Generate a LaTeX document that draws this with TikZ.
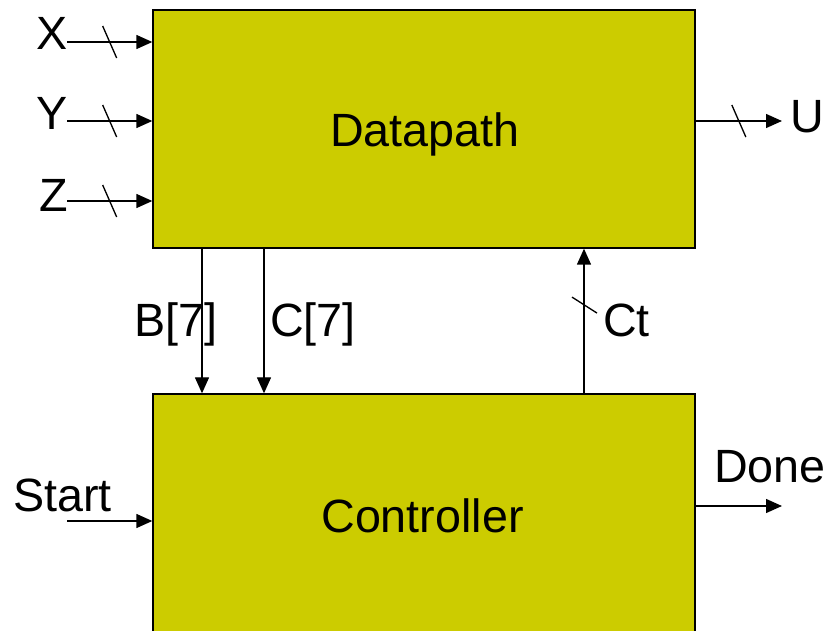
\documentclass[tikz,border=0pt]{standalone}
\usepackage{fontspec}
\setmainfont{Liberation Sans}
\usetikzlibrary{arrows.meta,calc}
\definecolor{blockfill}{HTML}{CCCC00}

\tikzset{
  block/.style={draw=black,line width=1pt,fill=blockfill,inner sep=0pt},
  lbl/.style={inner sep=0pt,font=\fontsize{35}{42}\selectfont},
  sig/.style={line width=1pt,-{Triangle[length=12pt,width=10.5pt]}},
  bustick/.style={line width=1pt}
}

\begin{document}
\begin{tikzpicture}[x=0.75pt,y=-0.75pt]
\useasboundingbox (0,0) rectangle (833,631);
\clip (0,0) rectangle (833,631);

% blocks
\node[block,minimum width=406.5pt,minimum height=178.5pt] (dp) at (424,129) {};
\node[block,minimum width=406.5pt,minimum height=183pt] (ctl) at (424,516) {};
\node[lbl,anchor=base] (dplbl) at (425,147) {Datapath};
\node[lbl,anchor=base] (ctllbl) at (422.5,532) {Controller};

% data inputs
\coordinate (xin) at (67,42);
\coordinate (yin) at (67,121);
\coordinate (zin) at (67,201);
\node[lbl,anchor=base east] (X) at (68,50) {X};
\node[lbl,anchor=base east] (Y) at (68,130) {Y};
\node[lbl,anchor=base east] (Z) at (68,212) {Z};
\foreach \p in {xin,yin,zin}{
  \draw[sig] (\p) -- coordinate[pos=.5] (\p t) (\p -| dp.west);
  \draw[bustick] (\p t) +(-7,-16) -- +(7,16);
}

% data output
\coordinate (uout) at (782,121);
\draw[sig] (uout -| dp.east) -- coordinate[pos=.5] (ut) (uout);
\draw[bustick] (ut) +(-7,-16) -- +(7,16);
\node[lbl,anchor=base west] (U) at (790,133) {U};

% status and control lines
\coordinate (bx) at (202,0);
\coordinate (cx) at (264,0);
\coordinate (ctx) at (584,0);
\draw[sig] (bx |- dp.south) -- (bx |- ctl.north);
\draw[sig] (cx |- dp.south) -- (cx |- ctl.north);
\draw[sig] (ctx |- ctl.north) -- coordinate[pos=.61] (ctt) (ctx |- dp.south);
\draw[bustick] (ctt) +(-12,-8) -- +(13,8);
\node[lbl,anchor=base west] (B) at (134,337) {B[7]};
\node[lbl,anchor=base west] (C) at (270,337) {C[7]};
\node[lbl,anchor=base west] (Ct) at (603,337) {Ct};

% start / done
\coordinate (sin) at (67,521);
\coordinate (dout) at (782,506);
\draw[sig] (sin) -- (sin -| ctl.west);
\draw[sig] (dout -| ctl.east) -- (dout);
\node[lbl,anchor=base west] (Start) at (13,511) {Start};
\node[lbl,anchor=base west] (Done) at (714,482) {Done};
\end{tikzpicture}
\end{document}
